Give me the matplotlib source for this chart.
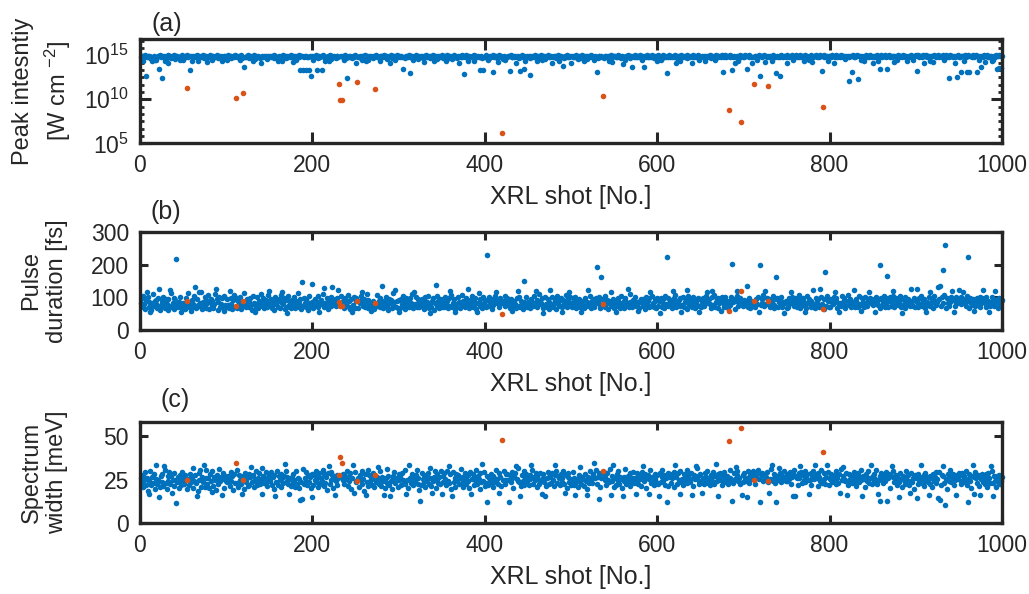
import numpy as np
import matplotlib
matplotlib.use('Agg')
import matplotlib.pyplot as plt
from matplotlib.ticker import FixedLocator, NullFormatter, LogFormatterSciNotation

plt.rcParams['font.family'] = ['Liberation Sans', 'DejaVu Sans']
plt.rcParams['mathtext.fontset'] = 'custom'
plt.rcParams['mathtext.rm'] = 'Liberation Sans'
plt.rcParams['mathtext.it'] = 'Liberation Sans:italic'
plt.rcParams['mathtext.default'] = 'regular'

# ---------------- data ----------------
# (a) peak intensity of every shot, in units of 1e14 W cm^-2
peak_1e14 = [
    7,9,5,8,6,10,4,7,8,6,9,5,7,11,6,8,3,7,9,6,8,5,10,7,6,
    8,6,9,7,4,8,10,6,7,9,5,8,6,7,11,5,8,9,6,7,3,8,6,10,7,
    6,8,7,10,5,7,9,6,8,4,7,9,6,8,7,10,5,6,9,7,8,6,11,5,8,
    9,5,8,6,7,10,6,8,3,9,7,6,8,10,5,7,8,6,9,7,4,8,7,9,6,
    7,10,6,8,9,5,7,8,6,10,4,7,9,6,8,7,11,5,8,6,9,7,6,8,10,
    5,8,7,9,6,8,10,4,7,8,6,9,7,5,10,8,6,7,9,6,8,3,7,9,6,
    8,6,9,7,10,5,8,6,7,9,8,6,4,8,7,10,6,9,5,8,7,6,9,7,11,
    6,9,7,5,8,7,9,6,10,7,5,8,9,6,7,8,4,9,7,6,10,8,5,7,9,
    9,7,6,10,7,8,5,9,6,8,7,11,6,8,9,5,7,8,6,10,7,4,8,6,9,
    7,5,9,8,6,10,7,8,4,9,6,7,10,5,8,7,9,6,8,7,5,9,7,10,6,
    8,10,6,7,9,5,8,6,9,7,10,6,8,3,7,9,6,8,7,5,9,8,6,10,7,
    6,7,9,5,8,9,6,10,7,8,4,9,7,6,8,10,5,7,9,8,6,7,11,6,8,
    9,6,8,7,10,6,7,5,9,8,6,10,7,8,5,9,7,6,8,10,7,4,9,6,8,
    7,8,5,9,7,8,10,6,8,7,9,5,8,6,10,7,9,6,4,8,7,9,6,8,10,
    5,9,7,8,6,10,7,9,5,8,7,6,9,11,6,8,7,5,9,7,8,6,10,7,9,
    8,6,10,7,9,5,8,7,6,9,8,10,4,7,8,6,9,7,10,6,8,5,9,7,6,
    10,7,6,8,5,9,7,8,10,6,7,9,8,5,7,10,6,8,9,7,4,8,6,9,7,
    6,9,8,5,10,7,6,9,7,8,10,6,7,9,5,8,7,10,6,8,9,5,7,8,6,
    9,7,5,8,7,9,6,10,8,7,5,9,6,8,10,7,8,6,9,4,7,8,10,6,9,
    7,8,10,6,9,7,8,5,7,10,6,8,9,7,6,9,5,8,7,10,6,9,7,8,5,
    8,6,7,9,6,10,7,8,9,5,8,7,10,6,8,9,7,4,8,7,9,6,10,8,7,
    6,10,8,7,9,5,8,9,6,8,7,10,5,9,7,8,6,9,7,8,10,6,7,9,8,
    9,7,6,10,8,7,9,5,8,10,6,7,9,8,6,10,7,8,5,9,7,8,6,10,7,
    7,9,8,6,10,7,5,9,7,8,9,6,10,7,8,6,9,7,10,8,5,7,9,6,8,
    10,6,9,7,8,5,10,7,9,6,8,7,9,10,6,8,7,9,6,8,10,7,5,8,9,
    8,7,10,9,6,8,7,9,5,10,7,8,6,9,8,10,7,6,9,7,8,10,6,8,7,
    6,9,7,8,10,7,9,6,8,7,10,5,9,8,7,9,6,10,7,8,6,9,8,7,10,
    9,8,6,10,7,9,8,7,10,6,8,9,7,8,10,6,9,7,8,5,10,7,9,8,6,
    7,10,9,6,8,7,10,8,6,9,7,10,8,6,9,8,7,10,6,9,8,7,9,10,8,
    8,6,10,9,7,8,6,9,10,7,8,6,10,9,7,8,9,6,10,8,7,9,8,6,10,
    10,8,7,9,6,10,8,9,7,8,10,6,9,7,8,10,7,9,8,6,10,8,7,9,7,
    7,9,8,10,7,6,9,8,10,7,9,8,6,10,8,7,9,10,7,8,6,9,10,8,7,
    9,7,10,8,9,7,8,10,6,9,8,7,10,8,9,6,8,10,9,7,8,10,7,9,8,
    8,10,7,9,6,8,10,7,9,8,7,10,9,6,8,9,10,7,8,9,6,10,8,7,9,
    6,8,9,7,10,8,9,6,8,10,7,9,8,10,6,9,7,8,10,7,9,6,8,9,10,
    9,7,8,10,8,6,9,8,7,10,9,8,6,9,10,7,8,9,6,10,8,7,9,8,10,
    8,10,9,7,9,8,6,10,9,7,8,10,7,9,8,6,10,8,9,7,10,8,6,9,8,
    10,7,8,9,6,10,8,7,9,10,7,8,9,6,10,8,9,7,8,10,6,9,8,10,7,
    7,9,10,8,9,7,10,6,8,9,10,7,8,9,6,10,7,9,8,10,7,8,9,6,8,
    9,8,6,10,7,9,8,10,7,6,9,8,10,7,9,8,6,10,8,9,7,10,8,6,9,
]
# shots sitting on the lower edge of the band in (a)
peak_edge_shot = [3, 19, 29, 41, 50, 67, 84, 101, 116, 131, 147, 165, 181, 201, 219, 237, 258, 279,
                  296, 317, 341, 362, 381, 404, 424, 447, 466, 486, 508, 527, 544, 563, 582, 604,
                  627, 648, 667, 694, 716, 733, 757, 776, 798, 818, 837, 856, 878, 897, 917, 933,
                  956, 973, 990]
peak_edge_1e14 = [2.5, 3, 2, 3.5, 2.8, 2.2, 3.2, 2.6, 3, 2.4, 3.4, 2.1, 2.9, 3.1, 2.3, 2.7, 3.3, 2,
                  2.6, 3, 2.4, 3.5, 2.2, 2.8, 3.1, 2.5, 2.9, 2.3, 3.4, 2.7, 2.1, 3.2, 2.6, 3,
                  2.4, 2.8, 3.3, 2.2, 2.9, 2.5, 3.1, 2.7, 2.3, 3.4, 2.6, 2.1, 3, 2.8, 2.4, 3.2,
                  2.5, 2.9, 2.7]
# shots that fell clearly below the main band in (a)
peak_low_shot = [7, 14, 22, 25, 33, 58, 60, 78, 95, 121, 140, 160, 178, 186, 189, 192, 196, 198,
                 205, 211, 215, 240, 250, 262, 290, 305, 313, 330, 355, 370, 376, 388, 394, 398,
                 410, 415, 429, 436, 441, 445, 452, 460, 478, 491, 500, 515, 530, 548, 560, 571,
                 585, 600, 611, 622, 640, 655, 676, 687, 690, 704, 710, 719, 725, 738, 742, 750,
                 770, 780, 791, 805, 822, 826, 833, 840, 850, 859, 867, 875, 890, 901, 910, 920,
                 938, 945, 948, 953, 959, 962, 971, 976, 980, 988, 994, 996, 999]
peak_low_1e14 = [0.045, 2, 0.25, 0.025, 1.5, 0.2, 2, 1.8, 2.5, 0.5, 1.2, 2, 1.6, 0.2, 0.2, 0.2, 0.2, 0.04,
                 0.2, 0.2, 2.2, 0.028, 1.4, 2, 1.5, 0.25, 0.11, 1.8, 2.5, 1.2, 0.08, 2, 0.2, 0.2,
                 0.13, 1.6, 0.18, 1.3, 0.16, 0.25, 0.056, 2, 1.5, 0.6, 1.2, 2.2, 0.13, 1.6, 1.0, 0.5,
                 0.5, 2, 0.11, 1.5, 1.3, 2, 0.13, 0.2, 1.2, 0.25, 1.4, 0.04, 1.8, 0.1, 0.045, 1.5,
                 2.2, 1.6, 0.18, 1.3, 0.013, 0.13, 0.02, 2, 1.5, 0.25, 0.3, 1.8, 2, 0.16, 1.4, 1.6,
                 0.025, 1.3, 0.03, 0.13, 0.13, 0.14, 0.13, 0.5, 1.8, 2, 0.3, 0.35, 0.35]

# (b) pulse duration of every shot [fs]
pulse_fs = [
    84,97,72,105,81,66,92,78,101,70,87,95,63,83,110,74,88,79,93,68,99,85,61,77,90,
    73,102,86,69,94,80,62,96,75,89,115,71,82,98,65,91,104,77,70,86,100,74,108,67,84,
    80,64,97,76,89,112,70,85,60,93,79,72,103,88,67,95,78,118,74,83,99,65,87,76,101,
    69,91,82,106,66,87,96,73,90,68,81,109,77,94,62,86,100,71,79,97,67,84,105,78,72,
    95,76,68,88,99,80,64,92,107,71,83,97,69,89,75,102,66,81,94,73,113,85,70,96,79,
    87,72,99,78,63,104,83,93,70,80,101,67,89,76,110,73,86,97,68,79,91,71,106,84,74,
    77,96,69,90,81,61,100,79,88,72,94,67,108,85,71,80,98,65,92,83,70,103,76,89,68,
    93,80,73,101,67,88,78,114,71,84,95,66,90,75,99,82,70,96,86,63,105,79,73,87,98,
    68,89,96,77,85,71,103,66,82,93,79,111,70,90,84,74,97,64,88,80,100,75,67,94,86,
    81,73,97,87,65,92,84,104,70,79,90,69,99,77,86,107,72,89,66,95,82,76,102,69,88,
    97,78,69,90,83,105,66,88,74,96,72,86,110,68,93,80,71,100,78,89,64,84,95,73,106,
    75,88,99,70,84,94,67,90,80,102,73,86,63,96,82,91,69,112,77,85,98,72,89,67,93,
    86,68,95,80,104,73,88,65,99,77,89,71,97,84,75,109,67,91,79,101,72,83,94,70,87,
    73,96,82,89,66,100,77,86,105,69,80,93,72,88,98,63,84,78,103,75,90,68,95,82,71,
    94,82,70,101,78,89,67,97,75,86,108,72,84,94,65,91,80,73,100,87,69,83,106,77,89,
    84,71,99,78,88,95,68,91,80,104,70,86,75,97,64,89,82,112,73,94,79,69,100,84,90,
    70,93,82,73,101,80,89,66,96,77,87,105,69,84,93,79,72,99,86,67,90,81,103,75,88,
    98,79,88,69,95,84,107,73,89,80,67,97,86,75,102,72,90,82,65,96,87,77,100,70,85,
    80,90,68,96,85,73,103,82,77,93,70,89,110,79,84,97,69,88,75,101,80,72,94,86,66,
    89,77,100,72,82,94,86,66,105,79,88,73,98,84,70,92,80,89,107,71,95,82,75,101,84,
    72,97,86,78,102,67,90,82,95,71,86,108,75,89,68,99,80,87,73,96,84,104,69,90,79,
    95,70,84,99,75,88,80,101,68,87,96,77,86,72,105,82,93,65,89,79,100,73,86,95,69,
    82,93,73,88,98,79,68,104,84,75,90,67,99,87,76,96,71,86,109,80,70,93,84,101,73,
    86,77,102,69,89,96,82,73,94,84,65,100,79,89,70,97,86,75,105,82,72,94,88,68,99,
    75,90,82,98,71,86,95,68,103,80,89,73,99,84,76,93,69,87,97,82,106,72,86,79,91,
    98,73,89,78,101,70,86,93,82,66,105,77,88,96,71,84,102,80,69,90,78,99,75,87,95,
    70,86,97,75,90,82,103,71,84,95,80,68,100,89,76,108,72,86,94,67,98,82,89,77,102,
    84,95,71,100,80,88,68,97,89,76,102,72,85,94,66,90,80,104,74,86,97,70,89,82,73,
    93,78,88,101,72,84,98,68,90,82,75,105,86,71,96,80,101,69,88,77,94,84,108,73,89,
    80,99,74,86,95,70,89,82,103,78,67,94,87,98,72,85,91,77,102,71,86,97,82,89,68,
    88,72,97,84,66,102,80,90,75,99,86,71,96,82,106,69,89,78,98,85,74,94,68,103,82,
    96,84,71,90,82,104,76,68,99,87,78,94,72,86,101,80,89,66,95,84,75,105,88,71,90,
    71,96,86,80,101,75,89,97,69,84,94,82,73,104,86,77,99,68,90,82,107,78,88,95,72,
    86,75,100,89,72,96,82,70,103,80,90,77,98,86,71,101,84,75,94,88,67,99,82,89,78,
    95,82,73,102,88,78,94,68,89,99,76,86,105,72,84,97,80,70,90,100,75,88,79,103,71,
    76,99,88,77,90,82,104,71,86,96,80,68,100,89,78,94,84,73,102,82,89,75,97,70,88,
    90,71,84,97,80,103,75,88,82,94,69,99,86,77,101,73,89,82,96,67,105,84,78,90,86,
    80,95,88,73,100,84,76,106,89,68,97,82,75,90,86,102,72,96,80,88,74,100,84,94,79,
    89,79,101,82,71,96,86,75,104,80,90,69,99,84,77,95,82,103,73,88,98,78,86,71,100,
    84,97,75,90,82,70,102,80,89,96,73,86,101,79,88,75,105,82,94,68,89,98,77,86,92,
]
# shots on the outer edges of the band in (b)
pulse_edge_shot = [12, 48, 97, 133, 170, 208, 246, 268, 301, 337, 366, 391, 432, 468, 489, 512, 552,
                   578, 603, 628, 649, 674, 718, 747, 772, 811, 836, 853, 884, 912, 944, 968, 985,
                   8, 35, 71, 88, 104, 150, 165, 230, 257, 296, 318, 360, 381, 413, 438, 459, 476,
                   498, 520, 546, 566, 592, 618, 634, 658, 692, 725, 755, 781, 806, 828, 846, 873,
                   894, 917, 942, 955, 978, 992]
pulse_edge_fs = [57, 55, 58, 56, 54, 57, 55, 58, 56, 54, 57, 55, 58, 54, 57, 55, 56,
                 58, 54, 57, 55, 58, 56, 54, 57, 55, 58, 56, 54, 57, 55, 58, 56,
                 118, 122, 116, 125, 119, 121, 117, 124, 118, 123, 116, 120, 126, 117, 121, 119, 124,
                 116, 122, 118, 125, 117, 120, 123, 116, 119, 121, 117, 124, 118, 122, 116, 120,
                 125, 118, 121, 117, 123, 119]
# long pulses standing above the band in (b)
pulse_high_shot = [22, 42, 64, 188, 200, 214, 223, 281, 343, 403, 445, 530, 535, 611, 664, 687,
                   704, 719, 738, 789, 795, 859, 867, 901, 926, 928, 932, 934, 950, 960]
pulse_high_fs = [127, 217, 131, 148, 141, 128, 133, 134, 139, 230, 149, 194, 161, 223, 121, 203,
                 135, 199, 163, 125, 178, 198, 166, 125, 133, 136, 182, 259, 124, 224]

# (c) spectrum width of every shot [meV]
spec_mev = [
    26.1,23.4,27.8,20.5,24.9,29.2,22.1,25.6,18.7,27.0,24.2,30.1,21.8,26.5,23.0,28.4,19.6,25.2,27.9,22.7,24.5,31.0,20.9,26.8,23.6,
    28.3,21.4,25.7,30.4,23.1,19.8,26.9,24.0,29.5,22.3,27.1,17.9,25.0,28.8,21.2,24.6,30.7,23.8,26.2,20.1,27.6,24.4,22.0,29.1,25.3,
    22.6,27.4,24.8,19.3,29.7,25.5,21.6,28.0,23.3,26.6,31.5,20.4,24.1,27.3,22.9,25.8,18.4,28.6,24.7,30.2,21.0,26.3,23.7,27.8,20.7,
    25.9,30.6,22.4,26.0,20.3,28.2,24.3,23.0,29.9,21.5,26.7,24.9,19.1,27.5,25.1,22.2,30.9,23.9,26.4,21.7,28.5,25.4,20.0,27.2,24.2,
    23.5,27.0,25.6,21.1,29.4,24.0,26.8,18.9,28.1,22.8,25.3,30.3,23.2,20.6,27.7,25.0,22.5,29.0,24.6,26.9,19.7,28.7,23.4,25.9,21.3,
    28.0,22.0,26.2,30.8,23.6,27.4,20.8,25.5,24.1,29.6,21.9,26.0,28.9,22.6,24.8,31.3,20.2,27.1,23.0,25.7,29.3,21.4,26.6,24.3,27.9,
    24.4,29.1,21.7,26.4,19.4,27.8,25.2,23.3,30.0,22.1,26.9,24.5,20.5,28.3,25.8,22.9,27.2,18.6,29.8,24.0,26.5,22.4,28.6,25.1,21.2,
    26.7,23.1,28.4,24.6,21.0,29.7,22.7,26.1,25.4,20.0,28.9,23.8,27.0,31.2,22.2,25.6,24.2,29.4,21.6,27.5,23.5,26.3,19.9,28.2,24.8,
    21.8,27.3,25.0,29.9,23.7,20.9,26.6,28.5,22.3,25.9,24.4,30.5,21.3,27.9,23.0,26.2,19.2,28.8,25.3,22.6,29.5,24.7,27.4,20.4,26.0,
    29.0,24.1,22.0,27.6,25.7,31.8,23.2,26.8,20.7,28.1,24.9,22.5,27.0,25.1,30.1,21.5,26.4,23.9,28.7,19.5,25.8,27.2,22.8,29.3,24.3,
    23.3,28.2,26.0,20.6,27.7,24.5,29.6,22.4,25.3,18.3,28.0,26.5,23.6,30.6,21.1,27.3,24.0,26.7,22.1,29.0,25.5,20.8,27.9,23.7,26.2,
    27.5,22.7,25.1,29.8,21.4,26.6,24.2,28.3,20.3,25.9,23.1,31.1,26.8,22.0,28.6,24.4,19.6,27.0,25.6,29.4,22.9,26.1,24.7,21.0,28.0,
    24.8,26.4,21.6,28.9,25.0,23.4,30.3,22.2,27.1,24.6,20.1,29.2,25.8,23.0,26.9,28.4,21.9,25.2,24.1,27.8,30.7,22.5,26.0,19.0,27.3,
    22.1,29.0,25.4,23.7,27.6,20.5,26.2,24.9,28.8,22.6,31.4,25.7,21.3,27.2,23.9,26.5,29.7,20.0,25.0,28.1,23.2,26.7,22.4,29.9,24.5,
    27.0,23.6,28.5,25.2,21.7,30.0,24.0,26.3,22.8,27.9,19.8,25.6,29.3,23.4,26.1,21.0,28.2,24.7,27.5,22.3,25.9,30.9,23.0,26.6,20.9,
    25.5,28.7,22.5,26.9,24.3,27.4,20.2,29.5,23.8,25.1,28.0,21.9,26.3,24.8,30.4,22.7,27.1,25.4,19.3,28.5,23.5,26.2,24.0,29.1,21.4,
    23.0,26.8,29.6,21.8,25.7,24.2,28.1,22.9,27.2,20.6,26.0,23.7,30.2,25.3,22.2,28.8,24.5,26.4,21.2,27.6,25.0,29.8,22.6,24.9,27.9,
    28.4,24.6,21.5,27.3,23.3,29.2,25.8,20.4,26.5,28.9,22.8,25.2,24.1,31.6,23.6,26.7,21.1,27.8,24.4,30.0,22.0,25.6,28.3,23.9,26.1,
    21.9,27.7,25.3,23.2,30.5,22.4,26.3,24.8,28.6,20.8,27.0,25.5,22.7,29.0,24.3,19.4,28.0,26.0,23.5,27.4,21.3,25.9,29.4,22.6,26.6,
    26.3,22.9,28.7,25.0,21.2,27.5,24.4,30.1,23.1,26.8,25.6,21.7,28.2,23.8,26.1,29.7,22.5,24.9,27.3,20.1,26.5,28.9,23.4,25.2,22.0,
    24.7,29.3,22.1,26.0,28.4,23.5,25.1,20.9,27.7,24.2,30.8,22.6,26.4,25.3,21.4,28.1,24.0,27.0,19.7,26.7,23.2,29.6,25.4,22.8,27.9,
    27.2,23.8,25.9,30.3,22.3,26.6,24.5,28.8,21.0,25.7,27.4,23.1,29.1,24.8,26.2,22.0,28.5,25.0,23.6,30.9,21.6,26.9,24.3,27.6,20.5,
    25.6,21.8,27.9,24.1,29.8,22.7,26.3,25.2,20.3,28.0,23.9,26.7,31.0,22.4,25.5,27.2,24.6,21.1,28.7,23.3,26.0,29.2,22.9,25.8,24.4,
    28.6,24.9,22.2,27.0,25.4,21.3,29.5,23.6,26.8,24.2,28.3,19.9,26.1,27.7,23.0,25.3,30.6,22.8,26.4,24.7,21.9,28.2,25.1,23.5,27.4,
    22.4,26.9,28.8,23.7,26.2,30.2,24.3,27.5,22.0,25.9,24.6,29.0,21.5,26.7,28.1,23.2,25.7,27.1,20.6,29.4,24.0,26.3,22.6,28.5,25.0,
    26.6,29.9,23.4,25.5,21.7,28.3,25.8,24.0,30.4,22.9,27.3,25.1,23.8,28.9,24.5,26.1,21.2,27.7,25.4,23.0,31.3,26.8,24.1,22.5,28.0,
    24.0,27.1,25.7,22.3,28.6,24.8,26.5,29.7,23.1,25.2,21.6,27.8,26.2,24.4,29.1,22.7,27.0,25.6,23.9,28.4,20.8,26.0,28.8,24.6,22.1,
    27.6,23.3,29.4,26.3,24.7,27.0,22.6,28.2,25.9,30.7,24.2,26.6,22.8,28.9,25.3,23.7,27.4,29.8,24.0,26.1,22.2,28.6,25.5,27.3,23.6,
    28.9,25.8,24.4,27.7,30.1,26.4,23.0,28.5,25.1,27.3,29.6,24.8,26.9,22.4,28.1,26.0,30.5,25.2,23.5,27.9,26.6,29.0,24.3,28.4,25.7,
    26.2,29.2,27.5,23.8,28.7,25.4,30.8,26.9,24.1,28.0,25.6,22.9,29.5,27.1,24.6,31.4,26.3,28.6,23.7,27.2,25.0,29.9,26.7,24.4,28.3,
    23.9,27.6,25.3,29.1,22.6,26.5,24.2,28.4,30.3,23.4,27.0,25.7,21.8,28.8,26.1,24.7,29.3,22.9,27.4,25.0,30.0,23.6,26.8,28.2,24.5,
    27.3,24.6,28.9,22.1,26.4,29.7,25.1,23.5,27.8,25.9,21.4,28.5,26.2,24.0,30.6,23.1,27.1,25.5,28.7,22.7,26.6,24.3,29.2,21.9,25.8,
    25.2,28.1,23.7,26.9,24.4,27.5,22.3,29.6,25.7,23.2,28.3,26.0,30.9,24.6,22.0,27.2,25.4,23.9,29.0,26.5,21.6,28.0,24.8,27.7,23.4,
    22.8,26.3,29.4,24.1,27.9,21.2,25.6,28.6,23.5,26.7,24.9,30.2,22.5,27.0,25.3,20.7,28.4,24.3,26.1,29.8,23.0,25.9,27.6,22.2,26.8,
    28.1,23.9,25.5,30.5,22.4,27.3,24.6,26.8,21.5,28.9,25.2,23.1,27.7,24.0,29.3,26.4,22.7,25.8,28.2,20.4,27.1,24.5,26.6,30.1,23.3,
    24.3,27.8,22.0,26.0,29.0,23.6,28.5,25.4,20.9,27.2,24.8,26.3,22.6,29.7,25.0,27.5,21.8,26.9,24.2,28.8,23.4,25.7,19.6,27.4,25.9,
    26.9,22.5,28.0,24.7,26.4,30.3,23.0,25.3,27.6,21.3,28.7,24.1,26.6,23.7,29.5,22.2,27.0,25.6,20.8,28.3,24.4,26.2,29.1,23.2,25.1,
    23.6,29.4,25.9,21.9,27.3,24.5,26.8,22.8,28.6,25.2,19.8,27.9,24.0,26.5,30.6,23.3,25.7,28.1,22.1,26.3,24.8,20.6,27.4,25.5,29.0,
    27.7,24.2,22.7,28.8,25.0,26.9,23.5,29.9,21.7,26.1,25.4,28.2,23.9,20.2,27.0,24.6,26.7,22.4,29.2,25.6,23.1,27.5,21.1,26.4,24.0,
    25.1,28.4,23.8,26.6,22.3,27.9,24.7,21.0,28.5,25.8,23.2,26.0,29.6,22.9,25.4,27.2,24.1,20.5,26.8,23.6,27.7,25.3,22.6,24.4,26.2,
]
# shots on the outer edges of the band in (c)
spec_edge_shot = [10, 37, 66, 83, 118, 157, 173, 226, 248, 283, 309, 339, 362, 384, 417, 441, 466,
                  493, 518, 546, 575, 602, 626, 652, 671, 698, 730, 757, 776, 812, 838, 856, 893,
                  915, 947, 968, 990,
                  28, 74, 129, 168, 219, 247, 276, 312, 358, 397, 436, 482, 511, 549, 583, 621,
                  645, 668, 691, 733, 766, 783, 815, 848, 872, 906, 931, 966, 987]
spec_edge_mev = [16.5, 17.2, 15.8, 17.6, 16.9, 15.4, 17.0, 16.3, 17.5, 15.9, 16.8, 17.3, 15.6, 16.7,
                 17.1, 15.3, 16.6, 17.4, 15.9, 16.2, 17.0, 15.7, 16.8, 17.3, 15.5, 16.4, 17.2, 15.8,
                 16.6, 17.1, 15.4, 16.9, 17.5, 15.9, 16.3, 17.0, 15.6,
                 32.6, 33.2, 32.4, 33.8, 32.9, 33.5, 32.2, 33.0, 32.7, 33.6, 32.5, 33.1, 32.3, 33.4,
                 32.8, 33.2, 32.6, 33.9, 32.4, 33.0, 32.7, 33.5, 32.3, 33.1, 32.8, 33.3, 32.5, 33.0,
                 32.6]
# shots off the main band in (c)
spec_out_shot = [19, 22, 42, 95, 142, 186, 188, 200, 262, 290, 325, 350, 403, 428, 454, 470, 505,
                 527, 532, 560, 590, 611, 640, 687, 704, 719, 738, 760, 797, 820, 859, 867, 880,
                 901, 926, 928, 934, 960, 975]
spec_out_mev = [33.0, 15.2, 11.8, 16.0, 17.0, 13.3, 14.0, 15.0, 16.2, 15.5, 13.0, 16.5, 12.4, 12.2,
                33.4, 15.8, 16.4, 34.4, 13.9, 15.6, 16.9, 12.4, 16.2, 12.6, 15.2, 12.2, 12.2, 15.5,
                33.4, 16.0, 13.0, 12.8, 15.2, 14.6, 14.5, 13.3, 10.5, 12.2, 15.9]

# flagged shots (orange) and their values in the three panels
bad_shot = [55, 111, 119, 231, 232, 234, 252, 273, 420, 537, 683, 697, 712, 728, 792]
bad_peak = [1.8e11, 1.5e10, 4.8e10, 5.0e11, 9.0e9, 9.0e9, 9.3e11, 1.4e11, 1.4e6, 2.6e10,
            5.6e8, 2.6e7, 5.9e11, 3.2e11, 1.35e9]
bad_pulse = [88, 73, 88, 85, 73, 75, 90, 84, 49, 81, 58, 121, 90, 88, 65]
bad_spec = [24.8, 34.4, 24.8, 27.8, 37.8, 34.4, 24.4, 27.7, 47.3, 29.6, 47.0, 54.2, 24.6, 24.0, 40.7]

blue = '#0072BD'
orange = '#D95319'
ink = '#262626'
MS = 4.0


def series(values, *overrides):
    v = np.array(values, dtype=float)
    for over_shot, over_val in overrides:
        for s, y in zip(over_shot, over_val):
            if s - 1 < len(v):
                v[s - 1] = y
    shots = np.arange(1, len(v) + 1)
    keep = ~np.isin(shots, bad_shot)
    return shots[keep], v[keep]


def style(ax, major_len):
    for sp in ax.spines.values():
        sp.set_linewidth(2.4)
        sp.set_color(ink)
    ax.tick_params(which='both', direction='in', top=True, right=True, color=ink,
                   width=2.2, labelsize=16.5, labelcolor=ink, pad=8)
    ax.tick_params(which='major', length=major_len)
    ax.tick_params(which='minor', length=3.2, width=2.0)
    ax.set_xlim(0, 1000)
    ax.set_xticks(range(0, 1001, 200))
    ax.set_xlabel('XRL shot [No.]', fontsize=18, color=ink)


fig = plt.figure(figsize=(10.29, 5.94), dpi=100)
W, H = 1029.0, 594.0
left, width = 140 / W, 862 / W

# (a) peak intensity
ax1 = fig.add_axes([left, 1 - 143.3 / H, width, 104.3 / H])
x, y = series(peak_1e14, (peak_edge_shot, peak_edge_1e14), (peak_low_shot, peak_low_1e14))
ax1.plot(x, y * 1e14, 'o', ms=MS, mfc=blue, mec='none', clip_on=False)
ax1.plot(bad_shot, bad_peak, 'o', ms=MS, mfc=orange, mec='none', clip_on=False)
ax1.set_yscale('log')
ax1.set_ylim(1e5, 10 ** 16.85)
ax1.yaxis.set_major_locator(FixedLocator([1e5, 1e10, 1e15]))
ax1.yaxis.set_major_formatter(LogFormatterSciNotation())
ax1.yaxis.set_minor_locator(FixedLocator([10 ** (5 + k * 5 / 6) for k in range(1, 15) if k % 6]))
ax1.yaxis.set_minor_formatter(NullFormatter())
style(ax1, 8)
ax1.set_ylabel('Peak intesntiy\n[W cm $^{-2}$]', fontsize=17, color=ink, linespacing=1.35)
ax1.yaxis.set_label_coords(-0.078, 0.5)
ax1.xaxis.set_label_coords(0.5, -42 / 104.3)

# (b) pulse duration
ax2 = fig.add_axes([left, 1 - 330.3 / H, width, 98.6 / H])
x, y = series(pulse_fs, (pulse_edge_shot, pulse_edge_fs), (pulse_high_shot, pulse_high_fs))
ax2.plot(x, y, 'o', ms=MS, mfc=blue, mec='none', clip_on=False)
ax2.plot(bad_shot, bad_pulse, 'o', ms=MS, mfc=orange, mec='none', clip_on=False)
ax2.set_ylim(0, 300)
ax2.set_yticks([0, 100, 200, 300])
style(ax2, 6)
ax2.set_ylabel('Pulse\nduration [fs]', fontsize=17, color=ink)
ax2.yaxis.set_label_coords(-0.0835, 0.5)
ax2.xaxis.set_label_coords(0.5, -42 / 98.6)

# (c) spectrum width
ax3 = fig.add_axes([left, 1 - 523.3 / H, width, 101.6 / H])
x, y = series(spec_mev, (spec_edge_shot, spec_edge_mev), (spec_out_shot, spec_out_mev))
ax3.plot(x, y, 'o', ms=MS, mfc=blue, mec='none', clip_on=False)
ax3.plot(bad_shot, bad_spec, 'o', ms=MS, mfc=orange, mec='none', clip_on=False)
ax3.set_ylim(0, 58)
ax3.set_yticks([0, 25, 50])
style(ax3, 6)
ax3.set_ylabel('Spectrum\nwidth [meV]', fontsize=17, color=ink)
ax3.yaxis.set_label_coords(-0.0835, 0.5)
ax3.xaxis.set_label_coords(0.5, -42 / 101.6)

fig.text(167 / W, 1 - 36 / H, '(a)', ha='center', va='bottom', fontsize=18, color=ink)
fig.text(166 / W, 1 - 224 / H, '(b)', ha='center', va='bottom', fontsize=18, color=ink)
fig.text(175 / W, 1 - 412 / H, '(c)', ha='center', va='bottom', fontsize=18, color=ink)

fig.savefig('out.png', dpi=100, facecolor='white')
